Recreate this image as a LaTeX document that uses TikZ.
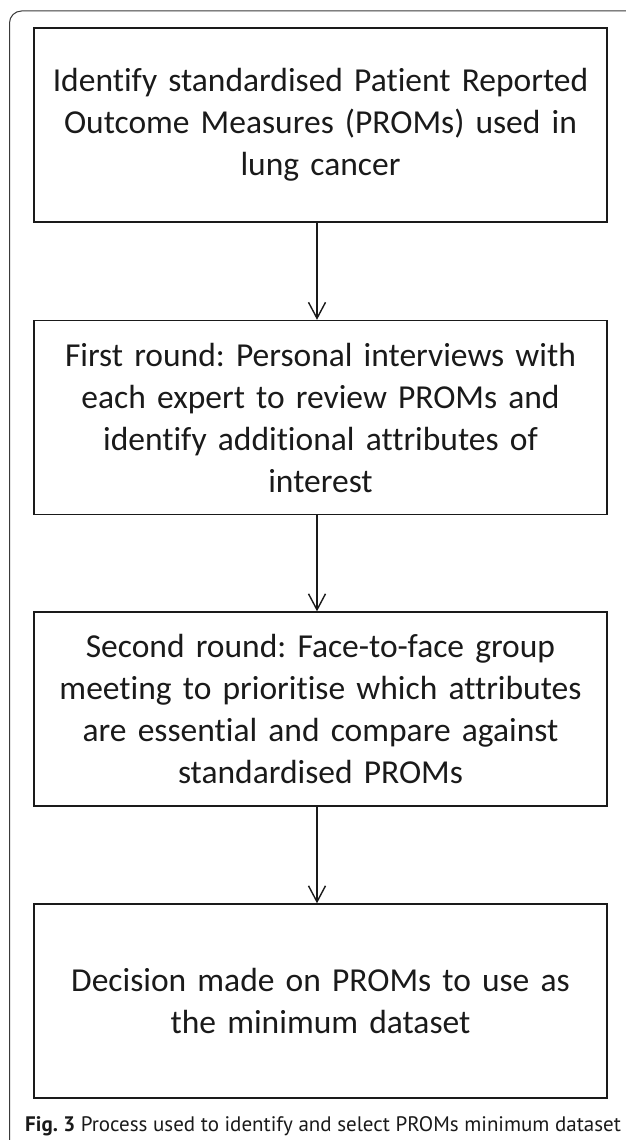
\documentclass[tikz,border=0pt]{standalone}
\usepackage{fontspec}
\setmainfont{Carlito}[Ligatures={NoCommon,NoContextual,NoDiscretionary,NoRare}, Contextuals=NoAlternate]
\newfontfamily\capfont{PT Sans}
\usetikzlibrary{arrows.meta}
\definecolor{ink}{HTML}{1A1A1A}
\definecolor{framegray}{HTML}{3A3A3A}
\frenchspacing
\tikzset{
  stepbox/.style={draw=ink, line width=1.4pt, minimum width=573pt, minimum height=194pt,
    text width=560pt, align=center, inner sep=0pt, text=ink,
    font=\fontsize{33.5}{42}\selectfont},
  flow/.style={draw=ink, line width=1.4pt, -{Straight Barb[length=16pt,width=17pt,line width=1.4pt]}},
}
\begin{document}
\begin{tikzpicture}[x=1pt,y=-1pt]
  \useasboundingbox (0,0) rectangle (625,1140);
  % outer panel frame, rounded at the top-left corner
  \draw[framegray, line width=1pt] (9.5,1141) -- (9.5,23) arc[start angle=180, end angle=270, radius=12] -- (626,11);

  \node[stepbox] (s1) at (320.5,125) {Identify standardised Patient Reported\\Outcome Measures (PROMs) used in\\lung cancer};
  \node[stepbox] (s2) at (320.5,417.5) {First round: Personal interviews with\\each expert to review PROMs and\\identify additional attributes of\\interest};
  \node[stepbox] (s3) at (320.5,709) {Second round: Face-to-face group\\meeting to prioritise which attributes\\are essential and compare against\\standardised PROMs};
  \node[stepbox] (s4) at (320.5,1001) {Decision made on PROMs to use as\\the minimum dataset};

  \coordinate (ax) at (317,0);
  \draw[flow] (s1.south -| ax) -- (s2.north -| ax);
  \draw[flow] (s2.south -| ax) -- (s3.north -| ax);
  \draw[flow] (s3.south -| ax) -- (s4.north -| ax);

  \node[anchor=west, inner sep=0pt, text=ink, font=\capfont\fontsize{21}{24}\selectfont] (cap) at (25,1126)
    {\textbf{Fig. 3} Process used to identify and select PROMs minimum dataset};
\end{tikzpicture}
\end{document}
